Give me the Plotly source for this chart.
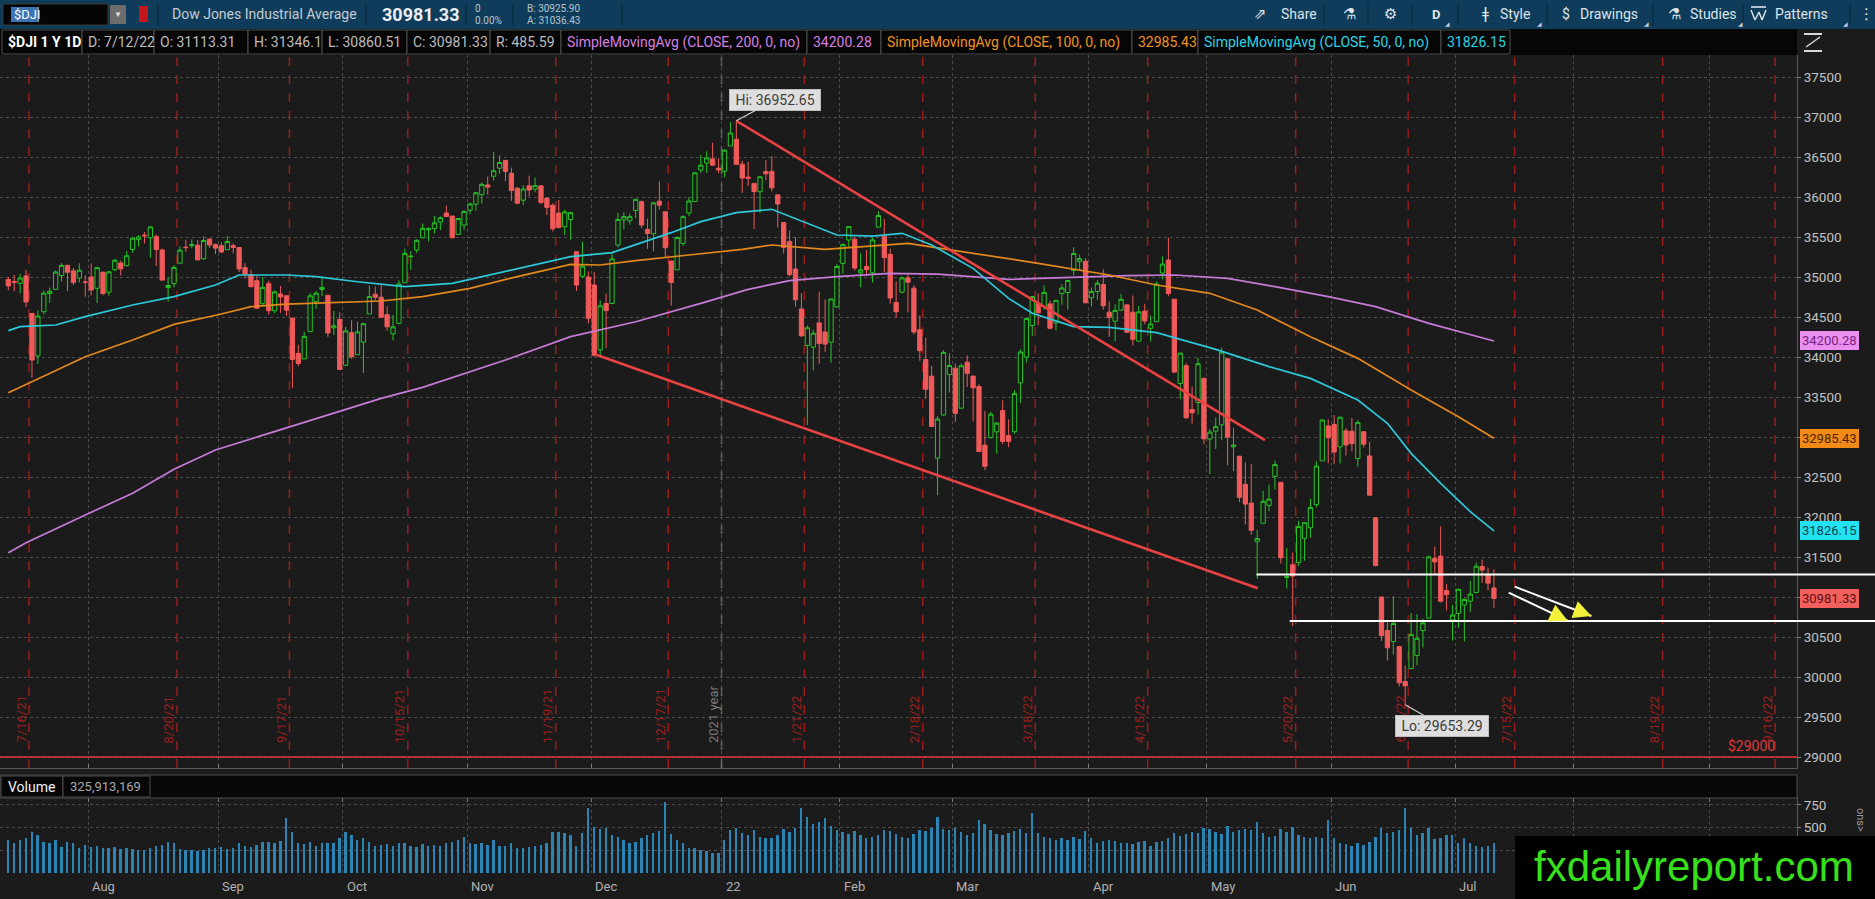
import pandas as pd
import plotly.graph_objects as go

W, H = 1875, 899
PLOT_R = 1797                  # right edge of both panes (px)
MAIN_T, MAIN_B = 55, 768       # price pane top / bottom (px)
VOL_T, VOL_B = 798, 873        # volume pane top / bottom (px)

BG = "#1b1b1b"
GREEN = "#27c427"
RED = "#f05a5a"
PURPLE = "#c77bd8"
ORANGE = "#e3881d"
CYAN = "#2cc9da"
VOLBLUE = "#2b84b4"
UI = "Roboto"

# ---------------------------------------------------------------- data
holidays = ["2021-09-06", "2021-11-25", "2021-12-24", "2022-01-17", "2022-02-21",
            "2022-04-15", "2022-05-30", "2022-06-20", "2022-07-04", "2022-09-05"]

# daily (open, high, low, close), one list per month
jul21 = [(34969, 35001, 34835, 34889), (34944, 35027, 34826, 34933), (34920, 35040, 34797, 34987),
         (35014, 35091, 34623, 34688), (34545, 34545, 33741, 33962), (34013, 34582, 33913, 34512),
         (34566, 34830, 34535, 34798), (34793, 34868, 34676, 34823), (34845, 35082, 34845, 35062),
         (35018, 35172, 34944, 35145), (35146, 35147, 34824, 35059), (35077, 35113, 34898, 34931),
         (34987, 35171, 34931, 35085), (34938, 35021, 34755, 34935)]
aug21 = [(35001, 35170, 34768, 34838), (34859, 35120, 34675, 35117), (35060, 35060, 34772, 34793),
         (34810, 35076, 34768, 35065), (35091, 35226, 35072, 35209), (35175, 35205, 35019, 35102),
         (35141, 35325, 35141, 35265), (35344, 35497, 35302, 35485), (35468, 35524, 35383, 35500),
         (35523, 35562, 35419, 35515), (35491, 35631, 35240, 35626), (35505, 35531, 35136, 35343),
         (35338, 35356, 34960, 34961), (34867, 35000, 34690, 34894), (34918, 35146, 34870, 35120),
         (35173, 35384, 35173, 35336), (35373, 35466, 35315, 35367), (35391, 35470, 35361, 35406),
         (35398, 35462, 35210, 35214), (35229, 35510, 35213, 35456), (35475, 35475, 35365, 35400),
         (35407, 35417, 35286, 35361)]
sep21 = [(35392, 35435, 35302, 35313), (35342, 35515, 35342, 35444), (35392, 35421, 35294, 35369),
         (35368, 35368, 35063, 35100), (35117, 35171, 34981, 35032), (35031, 35091, 34870, 34879),
         (34954, 35017, 34599, 34608), (34667, 35000, 34653, 34870), (34917, 34953, 34533, 34578),
         (34578, 34831, 34546, 34814), (34788, 34889, 34553, 34751), (34766, 34766, 34514, 34585),
         (34486, 34486, 33613, 33970), (34045, 34153, 33884, 33919), (33976, 34313, 33976, 34258),
         (34317, 34799, 34317, 34765), (34692, 34828, 34601, 34798), (34843, 35010, 34762, 34870),
         (34772, 34772, 34251, 34300), (34365, 34576, 34274, 34390), (34469, 34557, 33836, 33844)]
oct21 = [(33896, 34376, 33891, 34326), (34305, 34460, 33977, 34002), (34030, 34443, 34030, 34314),
         (34186, 34427, 33800, 34417), (34539, 34890, 34539, 34755), (34785, 34880, 34708, 34746),
         (34747, 34907, 34487, 34496), (34529, 34636, 34328, 34378), (34290, 34525, 34207, 34377),
         (34420, 34958, 34420, 34912), (34929, 35354, 34929, 35295), (35253, 35321, 35089, 35259),
         (35336, 35472, 35302, 35458), (35490, 35669, 35490, 35609), (35591, 35623, 35443, 35603),
         (35605, 35765, 35543, 35677), (35687, 35757, 35586, 35741), (35800, 35892, 35750, 35757),
         (35762, 35762, 35490, 35490), (35533, 35734, 35533, 35731), (35649, 35833, 35590, 35820)]
nov21 = [(35834, 35926, 35783, 35913), (35910, 36061, 35827, 36053), (36030, 36184, 35917, 36158),
         (36150, 36255, 36027, 36124), (36260, 36565, 36204, 36328), (36360, 36521, 36290, 36432),
         (36458, 36458, 36199, 36320), (36296, 36367, 35952, 36080), (36110, 36127, 35909, 35921),
         (35960, 36147, 35898, 36100), (36140, 36268, 36007, 36087), (36098, 36243, 36060, 36142),
         (36140, 36141, 35910, 35931), (35986, 35993, 35773, 35871), (35897, 35923, 35570, 35602),
         (35800, 35963, 35608, 35620), (35628, 35841, 35525, 35814), (35718, 35813, 35467, 35804),
         (35316, 35316, 34826, 34899), (35010, 35441, 34985, 35136), (35000, 35070, 34418, 34484)]
dec21 = [(34900, 35060, 34006, 34022), (34090, 34708, 33991, 34640), (34669, 34792, 34112, 34580),
         (34668, 35314, 34668, 35227), (35400, 35802, 35370, 35719), (35715, 35810, 35595, 35755),
         (35703, 35795, 35653, 35754), (35832, 35979, 35738, 35971), (35942, 35955, 35610, 35650),
         (35594, 35729, 35352, 35544), (35540, 35942, 35320, 35927), (35948, 36193, 35844, 35898),
         (35815, 35815, 35246, 35365), (35200, 35200, 34641, 34932), (35089, 35510, 35089, 35493),
         (35420, 35768, 35388, 35754), (35800, 36000, 35760, 35950), (35943, 36314, 35943, 36302),
         (36337, 36527, 36300, 36398), (36424, 36571, 36300, 36488), (36476, 36679, 36398, 36398),
         (36360, 36485, 36297, 36338)]
jan22 = [(36322, 36596, 36246, 36585), (36637, 36935, 36637, 36800), (36722, 36952.65, 36407, 36408),
         (36410, 36451, 36051, 36236), (36249, 36442, 36137, 36232), (36170, 36170, 35600, 36068),
         (36066, 36263, 35805, 36252), (36317, 36462, 36208, 36290), (36320, 36511, 36069, 36114),
         (36027, 36027, 35620, 35912), (35680, 35680, 35293, 35369), (35445, 35580, 35010, 35029),
         (35100, 35500, 34630, 34715), (34600, 34800, 34250, 34265), (34143, 34394, 33150, 34365),
         (34123, 34340, 33834, 34298), (34426, 34819, 33918, 34168), (34313, 34719, 34066, 34161),
         (34185, 34726, 33929, 34725), (34626, 35160, 34615, 35132)]
feb22 = [(35170, 35419, 35040, 35405), (35462, 35633, 35370, 35630), (35472, 35507, 35081, 35111),
         (35052, 35294, 34871, 35089), (35132, 35338, 35020, 35091), (35052, 35490, 34931, 35463),
         (35624, 35824, 35624, 35768), (35510, 35726, 35061, 35242), (35283, 35354, 34667, 34738),
         (34681, 34944, 34488, 34566), (34810, 35005, 34796, 34989), (34990, 35040, 34557, 34935),
         (34860, 34898, 34279, 34312), (34341, 34520, 33953, 34079), (33968, 34240, 33481, 33597),
         (33760, 33890, 33124, 33131), (32736, 33264, 32273, 33224), (33275, 34085, 33270, 34058),
         (33780, 34047, 33556, 33893)]
mar22 = [(33860, 33918, 33185, 33295), (33360, 33919, 33358, 33891), (33935, 34021, 33625, 33795),
         (33762, 33762, 33195, 33615), (33630, 33666, 32813, 32818), (32898, 33325, 32585, 32633),
         (32992, 33313, 32983, 33286), (33065, 33182, 32790, 33174), (33330, 33458, 32911, 32944),
         (33017, 33220, 32872, 32945), (33067, 33583, 33039, 33545), (33677, 34096, 33426, 34063),
         (33998, 34482, 33929, 34481), (34394, 34760, 34263, 34755), (34667, 34794, 34398, 34553),
         (34631, 34897, 34591, 34808), (34664, 34704, 34347, 34359), (34426, 34709, 34332, 34708),
         (34792, 34909, 34654, 34862), (34806, 34959, 34592, 34956), (35082, 35372, 35019, 35294),
         (35192, 35279, 35084, 35229), (35197, 35236, 34670, 34678)]
apr22 = [(34740, 34869, 34631, 34818), (34818, 34962, 34713, 34922), (34905, 35093, 34593, 34641),
         (34560, 34693, 34251, 34497), (34448, 34659, 34196, 34583), (34586, 34788, 34578, 34721),
         (34652, 34652, 34298, 34309), (34560, 34770, 34143, 34220), (34197, 34637, 34197, 34565),
         (34574, 34665, 34410, 34451), (34359, 34521, 34191, 34412), (34442, 34945, 34442, 34912),
         (35049, 35257, 34971, 35161), (35212, 35492, 34760, 34793), (34723, 34723, 33800, 33811),
         (33668, 34050, 33471, 34049), (33892, 33921, 33227, 33240), (33344, 33634, 33168, 33302),
         (33430, 33990, 33280, 33916), (33735, 33735, 32913, 32977)]
may22 = [(32975, 33099, 32537, 33062), (33073, 33243, 32850, 33129), (33151, 34117, 32959, 34061),
         (33979, 33979, 32646, 32998), (32877, 33113, 32573, 32899), (32760, 32760, 32188, 32246),
         (32408, 32684, 31906, 32161), (32174, 32662, 31778, 31834), (31690, 31838, 31228, 31730),
         (31922, 32327, 31922, 32197), (32145, 32406, 32072, 32223), (32508, 32705, 32341, 32655),
         (32434, 32434, 31419, 31490), (31244, 31613, 31105, 31253), (31403, 31557, 30636, 31262),
         (31432, 31951, 31386, 31880), (31734, 31929, 31454, 31929), (31865, 32228, 31740, 32120),
         (32154, 32697, 32122, 32637), (32702, 33213, 32702, 33213), (33138, 33220, 32672, 32990)]
jun22 = [(33157, 33274, 32663, 32813), (32877, 33248, 32668, 33248), (33077, 33113, 32768, 32900),
         (33072, 33236, 32821, 32916), (32730, 33213, 32630, 33180), (33066, 33071, 32866, 32910),
         (32764, 32939, 32270, 32273), (31992, 31992, 31383, 31393), (31000, 31000, 30452, 30517),
         (30581, 30696, 30206, 30365), (30443, 31009, 30280, 30668), (30380, 30380, 29883, 29927),
         (29943, 30140, 29653.29, 29889), (30105, 30800, 30105, 30530), (30268, 30787, 30146, 30484),
         (30580, 30730, 30370, 30677), (30736, 31520, 30736, 31501), (31483, 31629, 31288, 31439),
         (31511, 31885, 30933, 30947), (31080, 31165, 30833, 31029), (30710, 30898, 30456, 30775)]
jul22 = [(30795, 31101, 30617, 31097), (30900, 30983, 30444, 30968), (30949, 31202, 30815, 31037),
         (31056, 31431, 31046, 31385), (31380, 31467, 31175, 31338), (31286, 31368, 31083, 31173),
         (31113.31, 31346.1, 30860.51, 30981.33)]

# daily volume, millions
vol_jul21 = [363, 326, 363, 380, 455, 418, 345, 326, 363, 290, 345, 326, 271, 308]
vol_aug21 = [290, 300, 280, 275, 290, 265, 270, 260, 255, 250, 270, 300, 310, 345, 330, 265,
             255, 250, 245, 250, 270, 280]
vol_sep21 = [290, 265, 270, 330, 300, 290, 310, 345, 340, 330, 350, 601, 455, 330, 320, 345,
             300, 330, 330, 330, 380]
vol_oct21 = [455, 420, 360, 380, 340, 300, 310, 320, 300, 330, 330, 300, 290, 320, 300, 310,
             300, 330, 340, 360, 395]
vol_nov21 = [330, 320, 330, 310, 360, 300, 300, 330, 270, 280, 290, 300, 310, 330, 450, 450,
             440, 420, 300, 440, 711]
vol_dec21 = [510, 480, 500, 420, 400, 360, 330, 340, 380, 420, 440, 460, 785, 430, 360, 330,
             270, 270, 255, 240, 220, 220]
vol_jan22 = [360, 470, 490, 440, 420, 470, 400, 380, 390, 420, 480, 450, 490, 711, 620, 540,
             560, 600, 520, 470]
vol_feb22 = [450, 430, 460, 420, 380, 400, 420, 470, 460, 430, 400, 390, 430, 470, 460, 500,
             620, 480, 470]
vol_mar22 = [490, 450, 420, 440, 580, 540, 470, 430, 420, 440, 460, 480, 440, 656, 440, 400,
             390, 360, 380, 360, 400, 370, 460]
vol_apr22 = [390, 330, 350, 360, 350, 330, 330, 320, 340, 350, 300, 340, 350, 390, 440, 410,
             430, 450, 440, 500]
vol_may22 = [480, 450, 430, 520, 450, 470, 480, 470, 560, 440, 400, 410, 480, 450, 510, 420,
             400, 390, 400, 380, 583]
vol_jun22 = [380, 330, 320, 300, 330, 310, 340, 400, 490, 440, 450, 470, 719, 500, 420, 440,
             490, 370, 380, 420, 420]
vol_jul22 = [330, 380, 330, 300, 290, 300, 326]

# moving averages
sma200_dates = ["2021-07-13", "2021-07-16", "2021-07-30", "2021-08-11", "2021-08-20", "2021-08-31",
                "2021-09-14", "2021-09-20", "2021-09-30", "2021-10-11", "2021-10-20", "2021-11-09",
                "2021-11-24", "2021-12-10", "2021-12-28", "2022-01-07", "2022-01-19", "2022-01-31",
                "2022-02-11", "2022-02-24", "2022-03-14", "2022-03-29", "2022-04-11", "2022-04-22",
                "2022-05-05", "2022-05-17", "2022-05-31", "2022-06-10", "2022-06-24", "2022-07-12"]
sma200_vals = [31554, 31679, 32025, 32296, 32596, 32837, 33046, 33137, 33317, 33483, 33621, 33962,
               34254, 34441, 34671, 34846, 34954, 35004, 35046, 35037, 34971, 34996, 35017, 35025,
               34983, 34879, 34754, 34629, 34421, 34200.28]
sma100_dates = ["2021-07-13", "2021-07-19", "2021-07-30", "2021-08-11", "2021-08-20", "2021-09-01",
                "2021-09-09", "2021-09-17", "2021-09-29", "2021-10-11", "2021-10-20", "2021-11-01",
                "2021-11-11", "2021-11-24", "2021-12-02", "2021-12-10", "2021-12-23", "2022-01-06",
                "2022-01-13", "2022-01-27", "2022-02-16", "2022-03-04", "2022-03-21", "2022-04-06",
                "2022-04-19", "2022-05-02", "2022-05-12", "2022-05-25", "2022-06-07", "2022-06-21",
                "2022-07-01", "2022-07-12"]
sma100_vals = [33554, 33692, 34004, 34212, 34408, 34537, 34629, 34662, 34679, 34700, 34754, 34858,
               35004, 35158, 35150, 35204, 35275, 35346, 35400, 35346, 35421, 35296, 35171, 35025,
               34900, 34796, 34587, 34254, 33983, 33587, 33254, 32985.43]
sma50_dates = ["2021-07-13", "2021-07-15", "2021-07-23", "2021-07-30", "2021-08-11", "2021-08-20",
               "2021-08-31", "2021-09-07", "2021-09-17", "2021-09-24", "2021-10-05", "2021-10-15",
               "2021-10-27", "2021-11-09", "2021-11-24", "2021-12-06", "2021-12-20", "2021-12-28",
               "2022-01-05", "2022-01-13", "2022-01-24", "2022-01-31", "2022-02-08", "2022-02-15",
               "2022-02-23", "2022-03-04", "2022-03-14", "2022-03-18", "2022-03-29", "2022-04-06",
               "2022-04-19", "2022-05-03", "2022-05-16", "2022-05-25", "2022-06-07", "2022-06-14",
               "2022-06-21", "2022-06-28", "2022-07-06", "2022-07-12"]
sma50_vals = [34329, 34379, 34400, 34504, 34650, 34754, 34900, 35025, 35025, 35004, 34941, 34879,
              34921, 35067, 35254, 35304, 35554, 35692, 35804, 35846, 35671, 35525, 35512, 35546,
              35400, 35108, 34733, 34546, 34379, 34371, 34304, 34096, 33879, 33733, 33462, 33171,
              32796, 32421, 32067, 31826.15]

# option expiration markers and month boundaries
expiry_labels = ["7/16/21", "8/20/21", "9/17/21", "10/15/21", "11/19/21", "12/17/21", "1/21/22",
                 "2/18/22", "3/18/22", "4/15/22", "5/20/22", "6/17/22", "7/15/22", "8/19/22", "9/16/22"]
expiry_pos = ["2021-07-16", "2021-08-20", "2021-09-17", "2021-10-15", "2021-11-19", "2021-12-17",
              "2022-01-21", "2022-02-18", "2022-03-18", "2022-04-14", "2022-05-20", "2022-06-17",
              "2022-07-15", "2022-08-19", "2022-09-16"]
month_labels = ["Aug", "Sep", "Oct", "Nov", "Dec", "22", "Feb", "Mar", "Apr", "May", "Jun", "Jul", "Aug", "Sep"]
month_last_day = ["2021-07-30", "2021-08-31", "2021-09-30", "2021-10-29", "2021-11-30", "2021-12-31",
                  "2022-01-31", "2022-02-28", "2022-03-31", "2022-04-29", "2022-05-31", "2022-06-30",
                  "2022-07-29", "2022-08-31"]

price_ticks = list(range(29000, 37501, 500))

# ---------------------------------------------------------------- build
rows = jul21 + aug21 + sep21 + oct21 + nov21 + dec21 + jan22 + feb22 + mar22 + apr22 + may22 + jun22 + jul22
vols = (vol_jul21 + vol_aug21 + vol_sep21 + vol_oct21 + vol_nov21 + vol_dec21 + vol_jan22 + vol_feb22
        + vol_mar22 + vol_apr22 + vol_may22 + vol_jun22 + vol_jul22)
dates = pd.bdate_range("2021-07-13", "2022-07-12", freq="C", holidays=holidays)
assert len(dates) == len(rows) == len(vols), (len(dates), len(rows), len(vols))

df = pd.DataFrame(rows, columns=["open", "high", "low", "close"])
df["volume"] = vols
df["x"] = dates + pd.Timedelta(hours=12)   # candle sits in the middle of its day slot

noon = lambda ds: [d + " 12:00" for d in ds]
edge = lambda ds: [d + " 23:59" for d in ds]


def px(v):
    return v / W


def py(v):
    return 1 - v / H


fig = go.Figure()
fig.add_trace(go.Candlestick(
    x=df["x"], open=df["open"], high=df["high"], low=df["low"], close=df["close"],
    increasing=dict(line=dict(color=GREEN, width=1), fillcolor=BG),
    decreasing=dict(line=dict(color=RED, width=1), fillcolor=RED),
    whiskerwidth=0, hoverinfo="skip", showlegend=False))
for d, v, c in [(sma200_dates, sma200_vals, PURPLE), (sma100_dates, sma100_vals, ORANGE),
                (sma50_dates, sma50_vals, CYAN)]:
    fig.add_trace(go.Scatter(x=noon(d), y=v, mode="lines", line=dict(color=c, width=1.7),
                             hoverinfo="skip", showlegend=False))
fig.add_trace(go.Bar(x=df["x"], y=df["volume"], xaxis="x2", yaxis="y2",
                     marker=dict(color=VOLBLUE, line=dict(width=0)),
                     width=0.32 * 86400000, hoverinfo="skip", showlegend=False))

xcommon = dict(
    type="date", domain=[0, px(PLOT_R)],
    range=["2021-07-12 02:21", "2022-09-22 16:48"],
    rangebreaks=[dict(bounds=["sat", "mon"]), dict(values=holidays)],
    rangeslider=dict(visible=False),
    tickvals=edge(month_last_day), showticklabels=False,
    showgrid=True, gridcolor="#4c4c4c", griddash="dot", gridwidth=1,
    ticks="inside", ticklen=4, tickcolor="#7a7a7a",
    showline=True, linecolor="#595959", zeroline=False, fixedrange=True)
ycommon = dict(side="right", showgrid=True, gridcolor="#4c4c4c", griddash="dot", gridwidth=1,
               ticks="outside", ticklen=3, tickcolor="#8a8a8a", showline=True, linecolor="#595959",
               zeroline=False, fixedrange=True, tickformat="d",
               tickfont=dict(family=UI, size=13.5, color="#c4c4c4"))

fig.update_layout(
    width=W, height=H, autosize=False, margin=dict(l=0, r=0, t=0, b=0),
    paper_bgcolor=BG, plot_bgcolor=BG, showlegend=False, hovermode=False,
    boxgap=0.15, boxgroupgap=0.15, bargap=0,
    xaxis=dict(anchor="y", **xcommon),
    xaxis2=dict(anchor="y2", side="top", **xcommon),
    yaxis=dict(anchor="x", domain=[py(MAIN_B), py(MAIN_T)],
               range=[28862.5, 37775], tickvals=price_ticks, **ycommon),
    yaxis2=dict(anchor="x2", domain=[py(VOL_B), py(VOL_T)], range=[0, 825],
                tickvals=[250, 500, 750], ticktext=["", "500", "750"], **ycommon),
)

shapes = []
ann = []


def rect(x0, y0, x1, y1, fill, line=None, lw=1):
    shapes.append(dict(type="rect", xref="paper", yref="paper", x0=px(x0), x1=px(x1),
                       y0=py(y1), y1=py(y0), fillcolor=fill, layer="above",
                       line=dict(color=line or fill, width=lw if line else 0)))


def pline(x0, y0, x1, y1, color, w=1):
    shapes.append(dict(type="line", xref="paper", yref="paper", x0=px(x0), x1=px(x1),
                       y0=py(y0), y1=py(y1), line=dict(color=color, width=w)))


def text(x, y, s, size=13, color="#d0d0d0", anchor="left", family=UI, **kw):
    ann.append(dict(xref="paper", yref="paper", x=px(x), y=py(y), text=s, showarrow=False,
                    xanchor=anchor, yanchor="middle", font=dict(family=family, size=size, color=color), **kw))


# ---- option expiration lines + labels, year line
for lab, d in zip(expiry_labels, expiry_pos):
    xx = d + " 23:59"
    shapes.append(dict(type="line", xref="x", yref="paper", x0=xx, x1=xx, y0=py(MAIN_B), y1=py(MAIN_T),
                       layer="below", line=dict(color="#9a1c1c", width=1.5, dash="dash")))
    ann.append(dict(xref="x", yref="paper", x=xx, y=py(745), xshift=-8, text=lab, textangle=-90,
                    showarrow=False, yanchor="bottom", font=dict(family=UI, size=13, color="#9d1f1f")))
shapes.append(dict(type="line", xref="x", yref="paper", x0="2021-12-31 23:59", x1="2021-12-31 23:59",
                   y0=py(MAIN_B), y1=py(MAIN_T), layer="below",
                   line=dict(color="#6a6a6a", width=1.5, dash="dash")))
ann.append(dict(xref="x", yref="paper", x="2021-12-31 23:59", y=py(745), xshift=-8, text="2021 year",
                textangle=-90, showarrow=False, yanchor="bottom", font=dict(family=UI, size=13, color="#7a7a7a")))

# ---- $29000 line
shapes.append(dict(type="line", xref="paper", yref="y", x0=0, x1=px(PLOT_R), y0=29000, y1=29000,
                   line=dict(color="#e23a3a", width=1.6)))
ann.append(dict(xref="paper", yref="y", x=px(1777), y=29000, yshift=1, text="$29000", showarrow=False,
                xanchor="right", yanchor="bottom", font=dict(family=UI, size=14, color="#e03a3a")))

# ---- drawn trend channel
for x0, y0, x1, y1 in [("2022-01-05 12:00", 36952.65, "2022-05-13 19:12", 32960),
                       ("2021-12-01 16:48", 34030, "2022-05-12 14:24", 31110)]:
    shapes.append(dict(type="line", xref="x", yref="y", x0=x0, y0=y0, x1=x1, y1=y1,
                       line=dict(color="#e84242", width=2.6)))

# ---- white support lines (run into the price scale)
for x0, lvl in [("2022-05-12 09:36", 31280), ("2022-05-19 23:59", 30700)]:
    shapes.append(dict(type="line", xref="x", yref="y", x0=x0, x1="2022-09-22 16:48", y0=lvl, y1=lvl,
                       line=dict(color="#ffffff", width=2)))
    shapes.append(dict(type="line", xref="paper", yref="y", x0=px(PLOT_R), x1=1, y0=lvl, y1=lvl,
                       line=dict(color="#ffffff", width=2)))

# ---- arrows: white shaft, yellow head
for (x0, y0, x1, y1, ax, ay) in [("2022-07-15 23:59", 31129, "2022-08-03 23:15", 30762, -15, -5.7),
                                 ("2022-07-14 23:59", 31054, "2022-07-28 23:00", 30704, -14.5, -6.9)]:
    shapes.append(dict(type="line", xref="x", yref="y", x0=x0, y0=y0, x1=x1, y1=y1,
                       line=dict(color="#ffffff", width=2)))
    ann.append(dict(xref="x", yref="y", x=x1, y=y1, ax=ax, ay=ay, text="", showarrow=True,
                    arrowhead=2, arrowsize=1.5, arrowwidth=2.4, arrowcolor="#f2f23a"))

# ---- hi / lo callouts
for xx, yy, s, ax, ay in [("2022-01-05 12:00", 36952.65, " Hi: 36952.65 ", 39, -21),
                          ("2022-06-17 12:00", 29653.29, " Lo: 29653.29 ", 37, 21)]:
    ann.append(dict(xref="x", yref="y", x=xx, y=yy, ax=ax, ay=ay, text=s, showarrow=True,
                    arrowhead=0, arrowwidth=1.3, arrowcolor="#cfcfcf", bgcolor="#dedede",
                    bordercolor="#bdbdbd", borderwidth=1, borderpad=2,
                    font=dict(family=UI, size=14, color="#3c3c3c")))

# ---- last-value boxes on the price scale
for val, bg, fg in [(34200.28, "#e98ff0", "#7a1f80"), (32985.43, "#f28a17", "#4d2400"),
                    (31826.15, "#23e2f2", "#07424e"), (30981.33, "#f2605e", "#5e0f0f")]:
    ann.append(dict(xref="paper", yref="y", x=px(1800), y=val, text=f"{val:.2f}", showarrow=False,
                    xanchor="left", yanchor="middle", bgcolor=bg, bordercolor=bg, borderwidth=1,
                    borderpad=1, font=dict(family=UI, size=13, color=fg)))

# ---- month labels under the volume pane
for lab, d in zip(month_labels[:12], month_last_day[:12]):
    ann.append(dict(xref="x2", yref="paper", x=d + " 23:59", y=py(886), xshift=2, text=lab,
                    showarrow=False, xanchor="left", yanchor="middle",
                    font=dict(family=UI, size=13, color="#b2b2b2")))

# ---- toolbar
rect(0, 0, W, 29, "#0f3c5a")
rect(3, 4, 108, 25, "#050505", "#3b3b3b")
rect(11, 7, 37, 22, "#3a74b4")
text(12, 14.5, "$DJI", 13, "#ffffff")
pline(38, 7, 38, 22, "#ffffff", 1)
rect(110, 5, 126, 24, "#6c6c6c")
text(118, 14.5, "▼", 8, "#e0e0e0", anchor="center")
rect(139, 6, 148, 22, "#c4161c")
for sx in [158, 366, 466, 513, 622, 1324, 1368, 1412, 1458, 1547, 1653, 1743, 1850]:
    pline(sx, 3, sx, 26, "#0a2b41", 1.2)
text(170, 14.5, "Dow Jones Industrial Average", 14, "#c3ccd4")
text(380, 14.5, "<b>30981.33</b>", 18, "#e9eef2")
text(473, 8.5, "0", 10, "#b9c4cc")
text(473, 20.5, "0.00%", 10, "#b9c4cc")
text(525, 8.5, "B: 30925.90", 10, "#b9c4cc")
text(525, 20.5, "A: 31036.43", 10, "#b9c4cc")
text(1252, 14.5, "⇗", 15, "#dde5ea", family="DejaVu Sans")
text(1279, 14.5, "Share", 14, "#dde5ea")
text(1349, 14.5, "⚗", 15, "#dde5ea", anchor="center", family="DejaVu Sans")
text(1390, 14.5, "⚙", 15, "#dde5ea", anchor="center", family="DejaVu Sans")
text(1436, 14.5, "<b>D</b>", 13, "#dde5ea", anchor="center")
text(1485, 14.5, "ǂ", 15, "#dde5ea", anchor="center", family="DejaVu Sans")
text(1498, 14.5, "Style", 14, "#dde5ea")
text(1566, 14.5, "$", 14, "#dde5ea", anchor="center")
text(1578, 14.5, "Drawings", 14, "#dde5ea")
text(1674, 14.5, "⚗", 15, "#dde5ea", anchor="center", family="DejaVu Sans")
text(1688, 14.5, "Studies", 14, "#dde5ea")
# patterns icon: bar over a zigzag
pline(1751, 7, 1766, 7, "#dde5ea", 1.6)
pline(1751, 10, 1755, 20, "#dde5ea", 1.4)
pline(1755, 20, 1759, 12, "#dde5ea", 1.4)
pline(1759, 12, 1762, 20, "#dde5ea", 1.4)
pline(1762, 20, 1766, 10, "#dde5ea", 1.4)
text(1773, 14.5, "Patterns", 14, "#dde5ea")
text(1866, 14.5, "⋮", 15, "#dde5ea", anchor="center", family="DejaVu Sans")
for tx in [1447, 1539, 1646, 1740, 1845]:
    text(tx, 24, "◢", 6, "#c0cad2", anchor="center", family="DejaVu Sans")

# ---- study header bar
rect(0, 29, PLOT_R, 55, "#060606")
info = [(2, 82, "<b>$DJI 1 Y 1D</b>", "#ffffff"), (82, 154, "D: 7/12/22", "#bcbcbc"),
        (154, 248, "O: 31113.31", "#bcbcbc"), (248, 322, "H: 31346.1", "#bcbcbc"),
        (322, 407, "L: 30860.51", "#bcbcbc"), (407, 490, "C: 30981.33", "#bcbcbc"),
        (490, 561, "R: 485.59", "#bcbcbc"),
        (561, 807, "SimpleMovingAvg (CLOSE, 200, 0, no)", "#d57ee2"), (807, 881, "34200.28", "#d57ee2"),
        (881, 1132, "SimpleMovingAvg (CLOSE, 100, 0, no)", "#ef911f"), (1132, 1198, "32985.43", "#ef911f"),
        (1198, 1441, "SimpleMovingAvg (CLOSE, 50, 0, no)", "#2ad3e3"), (1441, 1510, "31826.15", "#2ad3e3")]
for x0, x1, s, c in info:
    rect(x0, 30, x1, 54, "#060606", "#4e4e4e")
    text(x0 + 4, 42, s, 14, c)

# scale-type icon top right
pline(1804, 34, 1822, 34, "#d8d8d8", 2)
pline(1804, 51, 1822, 51, "#d8d8d8", 2)
pline(1806, 47, 1820, 37, "#d8d8d8", 1.5)

# ---- volume header
rect(0, 775, PLOT_R, 798, "#070707", "#4e4e4e")
rect(1, 776, 63, 797, "#070707", "#4e4e4e")
rect(63, 776, 150, 797, "#070707", "#4e4e4e")
text(6, 786.5, "Volume", 14, "#f0f0f0")
text(68, 786.5, "325,913,169", 13, "#a8a8a8")
text(1861, 820, "ons>", 11, "#9a9a9a", anchor="center", textangle=90)

# ---- watermark
rect(1515, 836, W, H, "#000000")
text(1694, 866, "fxdailyreport.com", 42, "#38e01c", anchor="center", family="Liberation Sans")

fig.update_layout(shapes=shapes, annotations=ann)
# the page itself should not add a margin round the fixed-size figure, and no modebar
fig.write_html("out.html", config={"displayModeBar": False},
               post_script="document.body.style.margin='0';document.body.style.background='#1b1b1b';")
